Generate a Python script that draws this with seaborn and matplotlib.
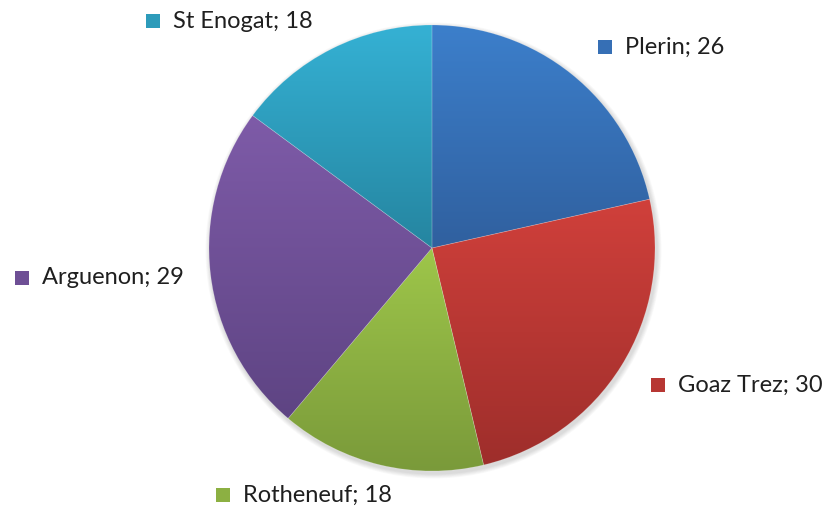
import matplotlib
matplotlib.use("Agg")
import matplotlib.pyplot as plt
import numpy as np
import seaborn as sns
from matplotlib.colors import LinearSegmentedColormap
from matplotlib.patches import Circle, Rectangle

sites = ["Plerin", "Goaz Trez", "Rotheneuf", "Arguenon", "St Enogat"]
counts = [26, 30, 18, 29, 18]

# top / bottom tones of each slice gradient
top_colors = ["#3c7fcb", "#d0403b", "#9ec64a", "#7e5ba8", "#35b1d4"]
bottom_colors = ["#30609f", "#9e2e2b", "#7a9a3a", "#5e4483", "#2585a0"]

# label anchor (marker left x, centre y) in pixel coords from the top
label_pos = [(598, 47), (651, 385), (216, 495), (15, 278), (146, 21)]

sns.set_theme(style="white")
plt.rcParams["font.family"] = ["Lato", "DejaVu Sans"]

W, H = 827, 508
fig = plt.figure(figsize=(W / 100, H / 100), dpi=100)
ax = fig.add_axes([0, 0, 1, 1])

cx, cy, r = 432, H - 248, 223

# soft shadow under the pie
for k in range(6):
    ax.add_patch(Circle((cx + 1.5, cy - 2.5), r + 1 + k * 0.8, color="black",
                        alpha=0.025, lw=0, zorder=0))

wedges, _ = ax.pie(counts, startangle=90, counterclock=False, center=(cx, cy),
                   radius=r, colors=top_colors, frame=True,
                   wedgeprops=dict(linewidth=0.5, edgecolor=(1, 1, 1, 0.2)))

grad = np.linspace(0, 1, 256).reshape(-1, 1)
for w, c0, c1 in zip(wedges, top_colors, bottom_colors):
    bb = w.get_path().get_extents(w.get_patch_transform())
    cmap = LinearSegmentedColormap.from_list("g", [c1, c0])
    im = ax.imshow(grad, cmap=cmap, aspect="auto", origin="lower",
                   extent=(bb.x0, bb.x1, bb.y0, bb.y1), zorder=1)
    im.set_clip_path(w)
    w.set_zorder(2)
    w.set_facecolor("none")

for name, n, (mx, my), c0, c1 in zip(sites, counts, label_pos, top_colors, bottom_colors):
    y = H - my
    ax.add_patch(Rectangle((mx, y - 7), 14, 14, facecolor=sns.blend_palette([c0, c1], 3)[1],
                           edgecolor="none", zorder=3))
    ax.text(mx + 27, y, f"{name}; {n}", fontsize=17, color="#1f1f1f",
            va="center", ha="left", zorder=3)

ax.set_xlim(0, W)
ax.set_ylim(0, H)
ax.set_aspect("equal")
ax.axis("off")
fig.savefig("out.png", dpi=100)
